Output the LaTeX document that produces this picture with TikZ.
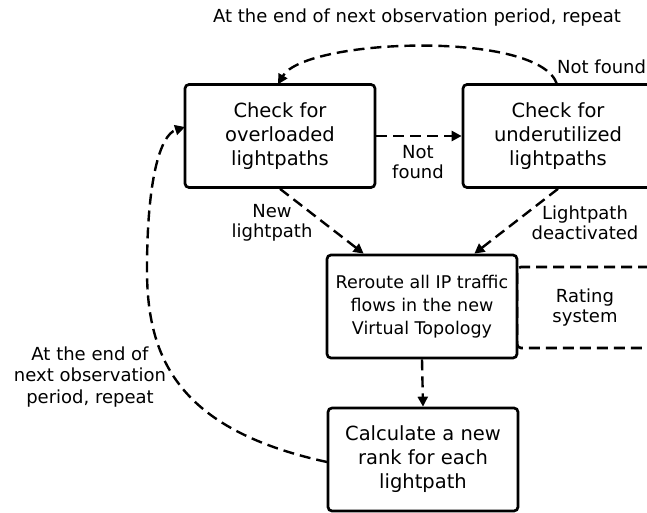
\documentclass[tikz,border=0pt]{standalone}
\usepackage{fontspec}
\setmainfont{DejaVu Sans}
\usetikzlibrary{arrows.meta}
\tikzset{
  box/.style={draw, line width=2.7pt, rounded corners=4pt, minimum width=190pt,
    minimum height=103pt, inner sep=0pt, align=center,
    font=\fontsize{19.5}{24}\selectfont},
  ratebox/.style={draw, line width=2.6pt, rounded corners=4pt, dash pattern=on 11pt off 6pt,
    minimum width=136pt, minimum height=81pt, inner sep=0pt, align=center,
    font=\fontsize{18}{20.5}\selectfont},
  lbl/.style={inner sep=0pt, align=center, font=\fontsize{18}{20.5}\selectfont},
  conn/.style={line width=2.4pt, dash pattern=on 11pt off 6pt,
    -{Triangle[length=10pt,width=10pt]}},
}
\begin{document}
\begin{tikzpicture}[x=1pt,y=-1pt]
\useasboundingbox (0,0) rectangle (647,513);
\clip (0,0) rectangle (647,513);
% boxes
\node[box] (b1) at (280,136) {Check for\\overloaded\\lightpaths};
\node[box] (b2) at (558,136) {Check for\\underutilized\\lightpaths};
\node[ratebox] (rs) at (585,307.5) {Rating\\system};
\node[box, fill=white, font=\fontsize{17.5}{23}\selectfont] (b3) at (422,306.5) {Reroute all IP traffic\\flows in the new\\Virtual Topology};
\node[box] (b4) at (423,459.5) {Calculate a new\\rank for each\\lightpath};
% labels
\node[lbl] (ttop) at (417,18) {At the end of next observation period, repeat};
\node[lbl, anchor=west] (nf1) at (557,67) {Not found};
\node[lbl, font=\fontsize{18}{20}\selectfont] (nf2) at (418,162) {Not\\found};
\node[lbl, font=\fontsize{18}{20}\selectfont] (nl) at (272,223) {New\\lightpath};
\node[lbl, font=\fontsize{18}{20}\selectfont] (ld) at (585,223) {Lightpath\\deactivated};
\node[lbl, font=\fontsize{18}{21.5}\selectfont] (tl) at (90,377) {At the end of\\next observation\\period, repeat};
% connectors
\coordinate (b3a) at ([xshift=38pt]b3.north west);
\coordinate (b3b) at ([xshift=-44pt]b3.north east);
\coordinate (b2t) at (557,84.3);
\coordinate (b1t) at (278,84.3);
\coordinate (b4w) at (327,462);
\coordinate (b1w) at (185,127);
\draw[conn] (b1.east) -- (b2.west);
\draw[conn] (b1.south) -- (b3a);
\draw[conn] (b2.south) -- (b3b);
\draw[conn] (b3.south) -- (b4.north);
\draw[conn] (b2t) .. controls (540,30) and (305,38) .. (b1t);
\draw[conn] (b4w) .. controls (180,430) and (147,360) .. (147,270)
  .. controls (147,180) and (160,135) .. (b1w);
\end{tikzpicture}
\end{document}
